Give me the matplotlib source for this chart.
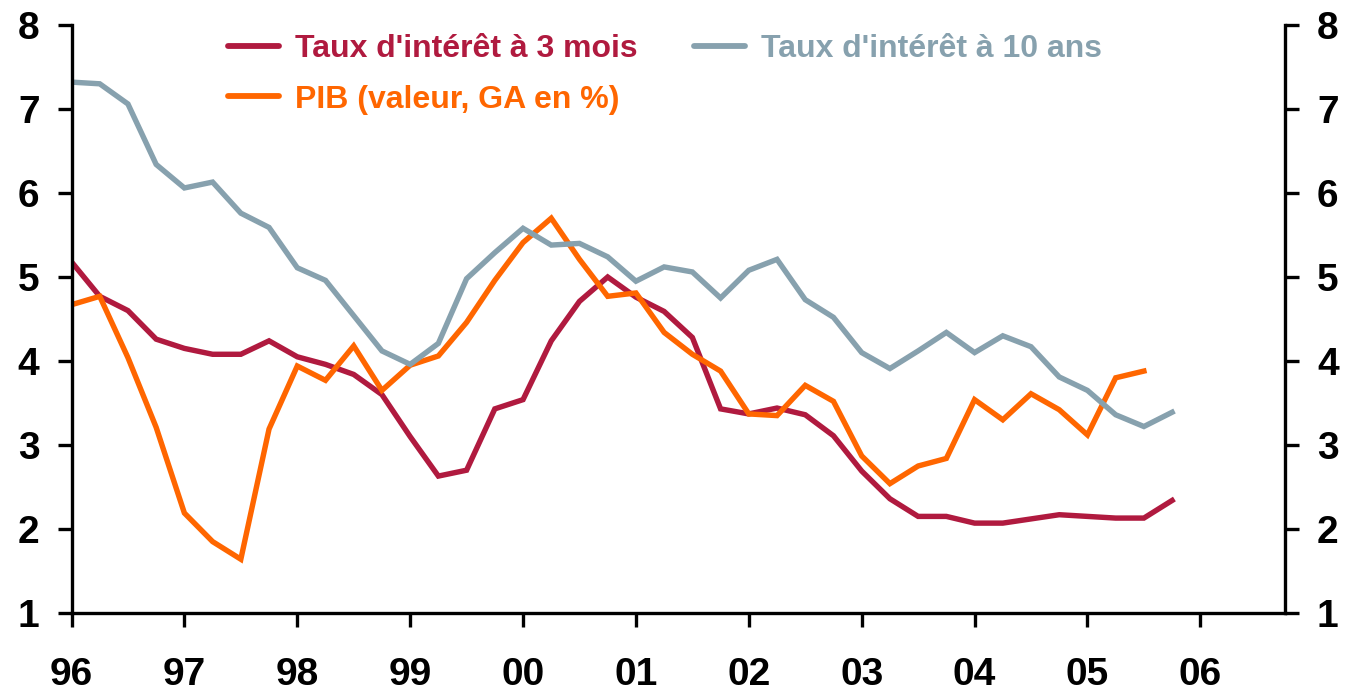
import numpy as np
import matplotlib
matplotlib.use('Agg')
import matplotlib.pyplot as plt

plt.rcParams['font.family'] = ['Liberation Sans', 'DejaVu Sans']
plt.rcParams['font.weight'] = 'bold'

# quarterly data, 1996 Q1 onwards
start_year = 1996
taux_3m = [5.18, 4.77, 4.60, 4.26, 4.15, 4.08, 4.08, 4.24, 4.05, 3.96,
           3.84, 3.60, 3.10, 2.63, 2.70, 3.43, 3.54, 4.24, 4.71, 5.00,
           4.76, 4.59, 4.28, 3.43, 3.37, 3.44, 3.36, 3.11, 2.69, 2.36,
           2.15, 2.15, 2.07, 2.07, 2.12, 2.17, 2.15, 2.13, 2.13, 2.34]
taux_10a = [7.32, 7.30, 7.06, 6.34, 6.06, 6.13, 5.76, 5.59, 5.11, 4.96,
            4.54, 4.12, 3.96, 4.21, 4.98, 5.29, 5.58, 5.38, 5.40, 5.24,
            4.95, 5.12, 5.06, 4.75, 5.08, 5.21, 4.73, 4.52, 4.10, 3.91,
            4.12, 4.34, 4.10, 4.30, 4.17, 3.81, 3.65, 3.36, 3.22, 3.39]
pib = [4.67, 4.77, 4.04, 3.21, 2.19, 1.85, 1.64, 3.19, 3.94, 3.77,
       4.18, 3.65, 3.95, 4.06, 4.46, 4.96, 5.41, 5.70, 5.21, 4.77,
       4.81, 4.34, 4.08, 3.88, 3.37, 3.35, 3.71, 3.52, 2.87, 2.54,
       2.75, 2.84, 3.54, 3.30, 3.61, 3.42, 3.12, 3.80, 3.88]
labels = ["Taux d'intérêt à 3 mois", 'PIB (valeur, GA en %)', "Taux d'intérêt à 10 ans"]
year_labels = ['96', '97', '98', '99', '00', '01', '02', '03', '04', '05', '06']
y_ticks = [1, 2, 3, 4, 5, 6, 7, 8]

c_red, c_orange, c_grey = '#B01A3F', '#FF6600', '#87A1AE'

def quarters(vals):
    return start_year + np.arange(len(vals)) / 4.0

fig = plt.figure(figsize=(13.47, 6.96), dpi=100)
ax = fig.add_axes([71.5 / 1347, 1 - 613 / 696, (1285 - 71.5) / 1347, (613 - 25) / 696])

lw = 3.9
l1, = ax.plot(quarters(taux_3m), taux_3m, color=c_red, lw=lw, solid_joinstyle='miter')
l2, = ax.plot(quarters(pib), pib, color=c_orange, lw=lw, solid_joinstyle='miter')
l3, = ax.plot(quarters(taux_10a), taux_10a, color=c_grey, lw=lw, solid_joinstyle='miter')

ax.set_xlim(1996, 2006.75)
ax.set_ylim(1, 8)
ax.set_xticks([start_year + k for k in range(len(year_labels))])
ax.set_xticklabels(year_labels)
ax.set_yticks(y_ticks)
ax.tick_params(axis='both', labelsize=28, width=2.4, length=10, direction='out')
ax.tick_params(axis='x', pad=22)
ax.tick_params(axis='y', pad=13, right=True, labelright=True)
for s in ['left', 'right', 'bottom']:
    ax.spines[s].set_linewidth(2.4)
ax.spines['top'].set_visible(False)
for t in ax.get_xticklabels() + ax.get_yticklabels():
    t.set_fontweight('bold')

leg = ax.legend([l1, l2, l3], labels, ncol=2, loc='upper left', bbox_to_anchor=(0.129, 0.985),
                frameon=False, fontsize=23, handlelength=1.6, handletextpad=0.5,
                columnspacing=1.75, labelspacing=0.65, borderpad=0, borderaxespad=0)
for txt, col in zip(leg.get_texts(), [c_red, c_orange, c_grey]):
    txt.set_color(col)
    txt.set_fontweight('bold')
for h in leg.get_lines():
    h.set_linewidth(4.2)
    h.set_solid_capstyle('round')

fig.savefig('out.png', dpi=100)
